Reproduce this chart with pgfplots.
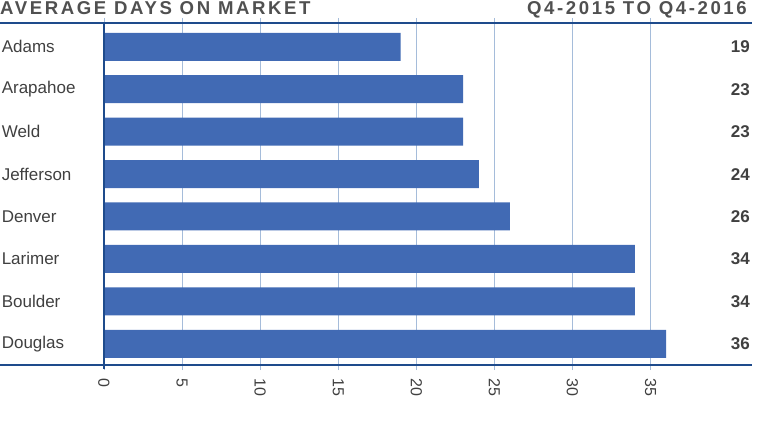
\documentclass[border=0pt]{standalone}
\usepackage{fontspec}
\setmainfont{Liberation Sans}
\usepackage{pgfplots}
\pgfplotsset{compat=1.18}
\definecolor{barblue}{RGB}{65,106,180}
\definecolor{axisblue}{RGB}{30,75,140}
\definecolor{gridblue}{RGB}{165,188,218}
\definecolor{txtgray}{RGB}{64,64,64}
\definecolor{titlegray}{RGB}{80,80,80}
\begin{document}
\begin{tikzpicture}[x=1pt,y=1pt]
\path[use as bounding box] (-104,-63) rectangle (656,365);
\begin{axis}[
  scale only axis, width=648pt, height=342pt,
  xbar, bar width=0.66,
  xmin=0, xmax=41.5, ymin=-0.5, ymax=7.56,
  axis line style={draw=none},
  /pgf/number format/assume math mode=true,
  xmajorgrids, grid style={gridblue, line width=0.8pt},
  xtick={0,5,...,35},
  tick align=outside, major tick length=5pt,
  xtick style={gridblue, line width=0.8pt},
  ytick={0,...,7},
  yticklabels={Douglas,Boulder,Larimer,Denver,Jefferson,Weld,Arapahoe,Adams},
  ytick style={draw=none},
  yticklabel style={text width=97pt, align=left, inner sep=0pt, anchor=east,
    font=\fontsize{17}{19}\selectfont, text=txtgray},
  xticklabel style={rotate=-90, anchor=west, inner sep=0pt, xshift=8pt,
    font=\fontsize{16}{18}\selectfont, text=txtgray},
]
\addplot[fill=barblue, draw=none] coordinates {(36,0) (34,1) (34,2) (26,3) (24,4) (23,5) (23,6) (19,7)};
\end{axis}
\draw[axisblue, line width=1.5pt] (0,342) -- (0,-4);
\draw[axisblue, line width=2.2pt] (-104,342) -- (648,342);
\draw[axisblue, line width=1.5pt] (-104,0) -- (648,0);
\begin{scope}[every node/.style={anchor=east, inner sep=0pt, text=txtgray, font=\fontsize{17}{19}\selectfont\bfseries}]
\node at (646,318) {19};
\node at (646,275.6) {23};
\node at (646,233.2) {23};
\node at (646,190.8) {24};
\node at (646,148.4) {26};
\node at (646,106) {34};
\node at (646,63.6) {34};
\node at (646,21.2) {36};
\end{scope}
\node[anchor=base west, inner sep=0pt, text=titlegray] at (-104,350)
  {\fontsize{18.6}{20}\selectfont\bfseries\addfontfeatures{LetterSpace=14}AVERAGE DAYS ON MARKET};
\node[anchor=base east, inner sep=0pt, text=titlegray] at (643,350)
  {\fontsize{18.6}{20}\selectfont\bfseries\addfontfeatures{LetterSpace=14}Q4-2015 TO Q4-2016};
\end{tikzpicture}
\end{document}
